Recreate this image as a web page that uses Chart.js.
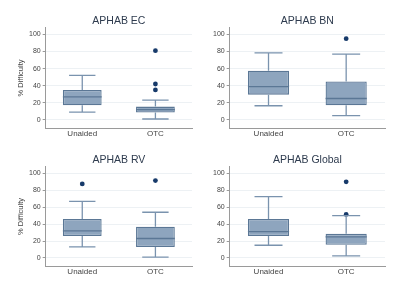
<!DOCTYPE html>
<html lang="en">
<head>
<meta charset="UTF-8">
<title>APHAB boxplots</title>
<style>
    * { margin: 0; padding: 0; box-sizing: border-box; }
    body { background: #fff; width: 400px; height: 291px; position: relative; overflow: hidden; }
    .panel { position: absolute; width: 200px; height: 140px; }
    #p1 { left: 0; top: 0; }
    #p2 { left: 200px; top: 0; }
    #p3 { left: 0; top: 139px; height: 139px; }
    #p4 { left: 200px; top: 139px; height: 139px; }
</style>
</head>
<body>
<div class="panel" id="p1"><canvas id="c1"></canvas></div>
<div class="panel" id="p2"><canvas id="c2"></canvas></div>
<div class="panel" id="p3"><canvas id="c3"></canvas></div>
<div class="panel" id="p4"><canvas id="c4"></canvas></div>

<script src="https://cdn.jsdelivr.net/npm/chart.js"></script>
<script>
    // categories and axis ticks
    const groups = ['Unaided', 'OTC'];
    const yTicks = [0, 20, 40, 60, 80, 100];

    // box stats per panel: [min, q1, median, q3, max] for Unaided then OTC
    const ecStats = [[9, 17, 27, 35, 52], [1, 8.5, 12, 15.5, 23]];
    const bnStats = [[16.5, 29.5, 39, 57.5, 78.5], [5, 17, 25, 45, 77]];
    const rvStats = [[13, 26, 32, 46, 67], [1, 13, 23, 37, 54]];
    const glStats = [[15, 26, 31, 46, 72.5], [2.5, 15.5, 25, 28.5, 50]];

    // outliers: [group, value]
    const ecOut = [['OTC', 35], ['OTC', 42], ['OTC', 81]];
    const bnOut = [['OTC', 95]];
    const rvOut = [['Unaided', 87.5], ['OTC', 91.5]];
    const glOut = [['OTC', 51.5], ['OTC', 90]];

    const boxFill = '#8ea5be';
    const boxLine = '#5b7795';
    const whiskerColor = '#7a93ae';
    const dotColor = '#173a6a';
    const textColor = '#444';

    // draws median, whiskers and caps from the stats through the scales
    const whiskerPlugin = {
        id: 'whiskers',
        afterDatasetsDraw(chart, args, opts) {
            const ctx = chart.ctx;
            const xs = chart.scales.x, ys = chart.scales.y;
            const meta = chart.getDatasetMeta(0);
            opts.stats.forEach((s, i) => {
                const bar = meta.data[i];
                const x = xs.getPixelForValue(i);
                const half = bar.width / 2;
                const cap = half * 0.68;
                ctx.save();
                ctx.strokeStyle = whiskerColor;
                ctx.lineWidth = 1.3;
                ctx.beginPath();
                ctx.moveTo(x, ys.getPixelForValue(s[3]));
                ctx.lineTo(x, ys.getPixelForValue(s[4]));
                ctx.moveTo(x, ys.getPixelForValue(s[1]));
                ctx.lineTo(x, ys.getPixelForValue(s[0]));
                ctx.moveTo(x - cap, ys.getPixelForValue(s[4]));
                ctx.lineTo(x + cap, ys.getPixelForValue(s[4]));
                ctx.moveTo(x - cap, ys.getPixelForValue(s[0]));
                ctx.lineTo(x + cap, ys.getPixelForValue(s[0]));
                ctx.stroke();
                ctx.strokeStyle = boxLine;
                ctx.beginPath();
                ctx.moveTo(x - half, ys.getPixelForValue(s[2]));
                ctx.lineTo(x + half, ys.getPixelForValue(s[2]));
                ctx.stroke();
                ctx.restore();
            });
        }
    };

    function makeChart(id, title, stats, outliers, showYTitle) {
        new Chart(document.getElementById(id), {
            type: 'bar',
            data: {
                labels: groups,
                datasets: [{
                    data: stats.map(s => [s[1], s[3]]),
                    backgroundColor: boxFill,
                    borderColor: boxLine,
                    borderWidth: 1.3,
                    borderSkipped: false,
                    barPercentage: 0.53,
                    categoryPercentage: 1
                }, {
                    type: 'line',
                    data: outliers.map(o => ({ x: o[0], y: o[1] })),
                    showLine: false,
                    pointRadius: 2.4,
                    pointBackgroundColor: dotColor,
                    pointBorderColor: dotColor,
                    pointBorderWidth: 0
                }]
            },
            options: {
                responsive: true,
                maintainAspectRatio: false,
                animation: false,
                layout: {
                    padding: { top: 15, bottom: 0, left: showYTitle ? 14 : 11, right: showYTitle ? 8 : 15 }
                },
                plugins: {
                    legend: { display: false },
                    tooltip: { enabled: false },
                    title: {
                        display: true,
                        text: title,
                        fullSize: false,
                        color: '#2e3b4e',
                        font: { family: 'Arial, "Liberation Sans", sans-serif', size: 10.5, weight: 'normal' },
                        padding: { top: 0, bottom: 0 }
                    },
                    whiskers: { stats: stats }
                },
                scales: {
                    x: {
                        grid: { display: false, drawTicks: false },
                        border: { display: true, color: '#9a9a9a', width: 1 },
                        ticks: {
                            color: textColor,
                            padding: 1,
                            font: { family: 'Arial, "Liberation Sans", sans-serif', size: 8 }
                        }
                    },
                    y: {
                        min: -10,
                        max: 108,
                        afterBuildTicks: scale => { scale.ticks = yTicks.map(v => ({ value: v })); },
                        grid: { color: '#edf1f4', tickColor: '#9a9a9a', tickLength: 3, lineWidth: 1 },
                        border: { display: true, color: '#9a9a9a', width: 1 },
                        ticks: {
                            color: textColor,
                            padding: 2,
                            font: { family: 'Arial, "Liberation Sans", sans-serif', size: 7 }
                        },
                        title: {
                            display: showYTitle,
                            text: '% Difficulty',
                            color: textColor,
                            padding: 2,
                            font: { family: 'Arial, "Liberation Sans", sans-serif', size: 7.5 }
                        }
                    }
                }
            },
            plugins: [whiskerPlugin]
        });
    }

    makeChart('c1', 'APHAB EC', ecStats, ecOut, true);
    makeChart('c2', 'APHAB BN', bnStats, bnOut, false);
    makeChart('c3', 'APHAB RV', rvStats, rvOut, true);
    makeChart('c4', 'APHAB Global', glStats, glOut, false);
</script>
</body>
</html>
